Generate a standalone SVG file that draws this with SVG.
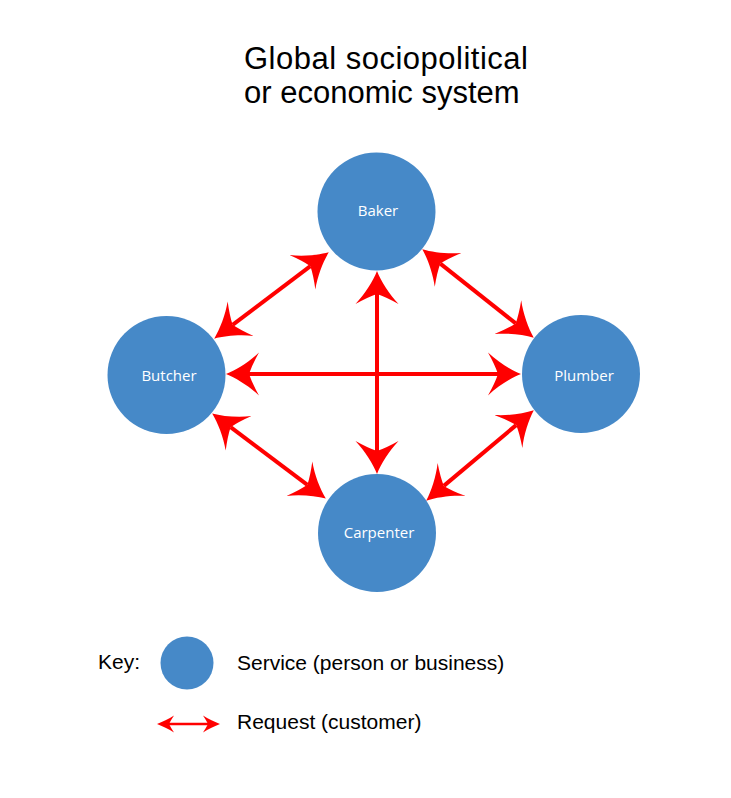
<svg xmlns="http://www.w3.org/2000/svg" width="731" height="798" viewBox="0 0 731 798">
<defs>
<style>
.title{font-family:"Liberation Sans",Arial,sans-serif;font-size:31px;fill:#000}
.key{font-family:"Liberation Sans",Arial,sans-serif;font-size:21px;fill:#000}
.node circle{fill:#4689C8}
.node text{font-family:"Open Sans","Noto Sans",sans-serif;font-size:15px;fill:#fff;text-anchor:middle}
.conn{stroke:#ff0000;stroke-width:4;fill:none;marker-start:url(#ah);marker-end:url(#ah)}
.kconn{stroke:#ff0000;stroke-width:2.5;fill:none;marker-start:url(#ahs);marker-end:url(#ahs)}
</style>
<marker id="ah" markerUnits="userSpaceOnUse" viewBox="0 -22 34 44" markerWidth="34" markerHeight="44" refX="10" refY="0" orient="auto-start-reverse">
<path d="M33,0 C23,-4 10,-12 0,-21.5 Q7,-9 10,0 Q7,9 0,21.5 C10,12 23,4 33,0 Z" fill="#ff0000"/>
</marker>
<marker id="ahs" markerUnits="userSpaceOnUse" viewBox="0 -9 18 18" markerWidth="18" markerHeight="18" refX="5" refY="0" orient="auto-start-reverse">
<path d="M17,0 C12,-2 5,-5 0,-8.5 Q3,-4 5,0 Q3,4 0,8.5 C5,5 12,2 17,0 Z" fill="#ff0000"/>
</marker>
</defs>
<rect width="731" height="798" fill="#fff"/>
<g id="title">
<text class="title" x="244" y="69" textLength="284" lengthAdjust="spacing">Global sociopolitical</text>
<text class="title" x="244" y="103">or economic system</text>
</g>
<g id="connectors">
<path class="conn" d="M232.6,324.8 L310.4,266.2"/>
<path class="conn" d="M440.3,263.6 L515.7,323.4"/>
<path class="conn" d="M249,374 L498,374"/>
<path class="conn" d="M377,294 L377,451"/>
<path class="conn" d="M516.2,425.1 L443.8,485.9"/>
<path class="conn" d="M230.6,427.2 L307.4,484.8"/>
</g>
<g id="baker" class="node"><circle cx="376.5" cy="211.5" r="59"/><text x="378" y="216">Baker</text></g>
<g id="butcher" class="node"><circle cx="166.5" cy="375" r="59"/><text x="169" y="381">Butcher</text></g>
<g id="plumber" class="node"><circle cx="581" cy="374" r="59"/><text x="584" y="381">Plumber</text></g>
<g id="carpenter" class="node"><circle cx="377" cy="533" r="59"/><text x="379" y="538">Carpenter</text></g>
<g id="legend">
<text class="key" x="98" y="669">Key:</text>
<g id="key-service" class="node"><circle cx="187" cy="663" r="26.5"/></g>
<text class="key" x="237" y="670">Service (person or business)</text>
<path id="key-request" class="kconn" d="M169,724 L208,724"/>
<text class="key" x="237" y="729">Request (customer)</text>
</g>
</svg>
